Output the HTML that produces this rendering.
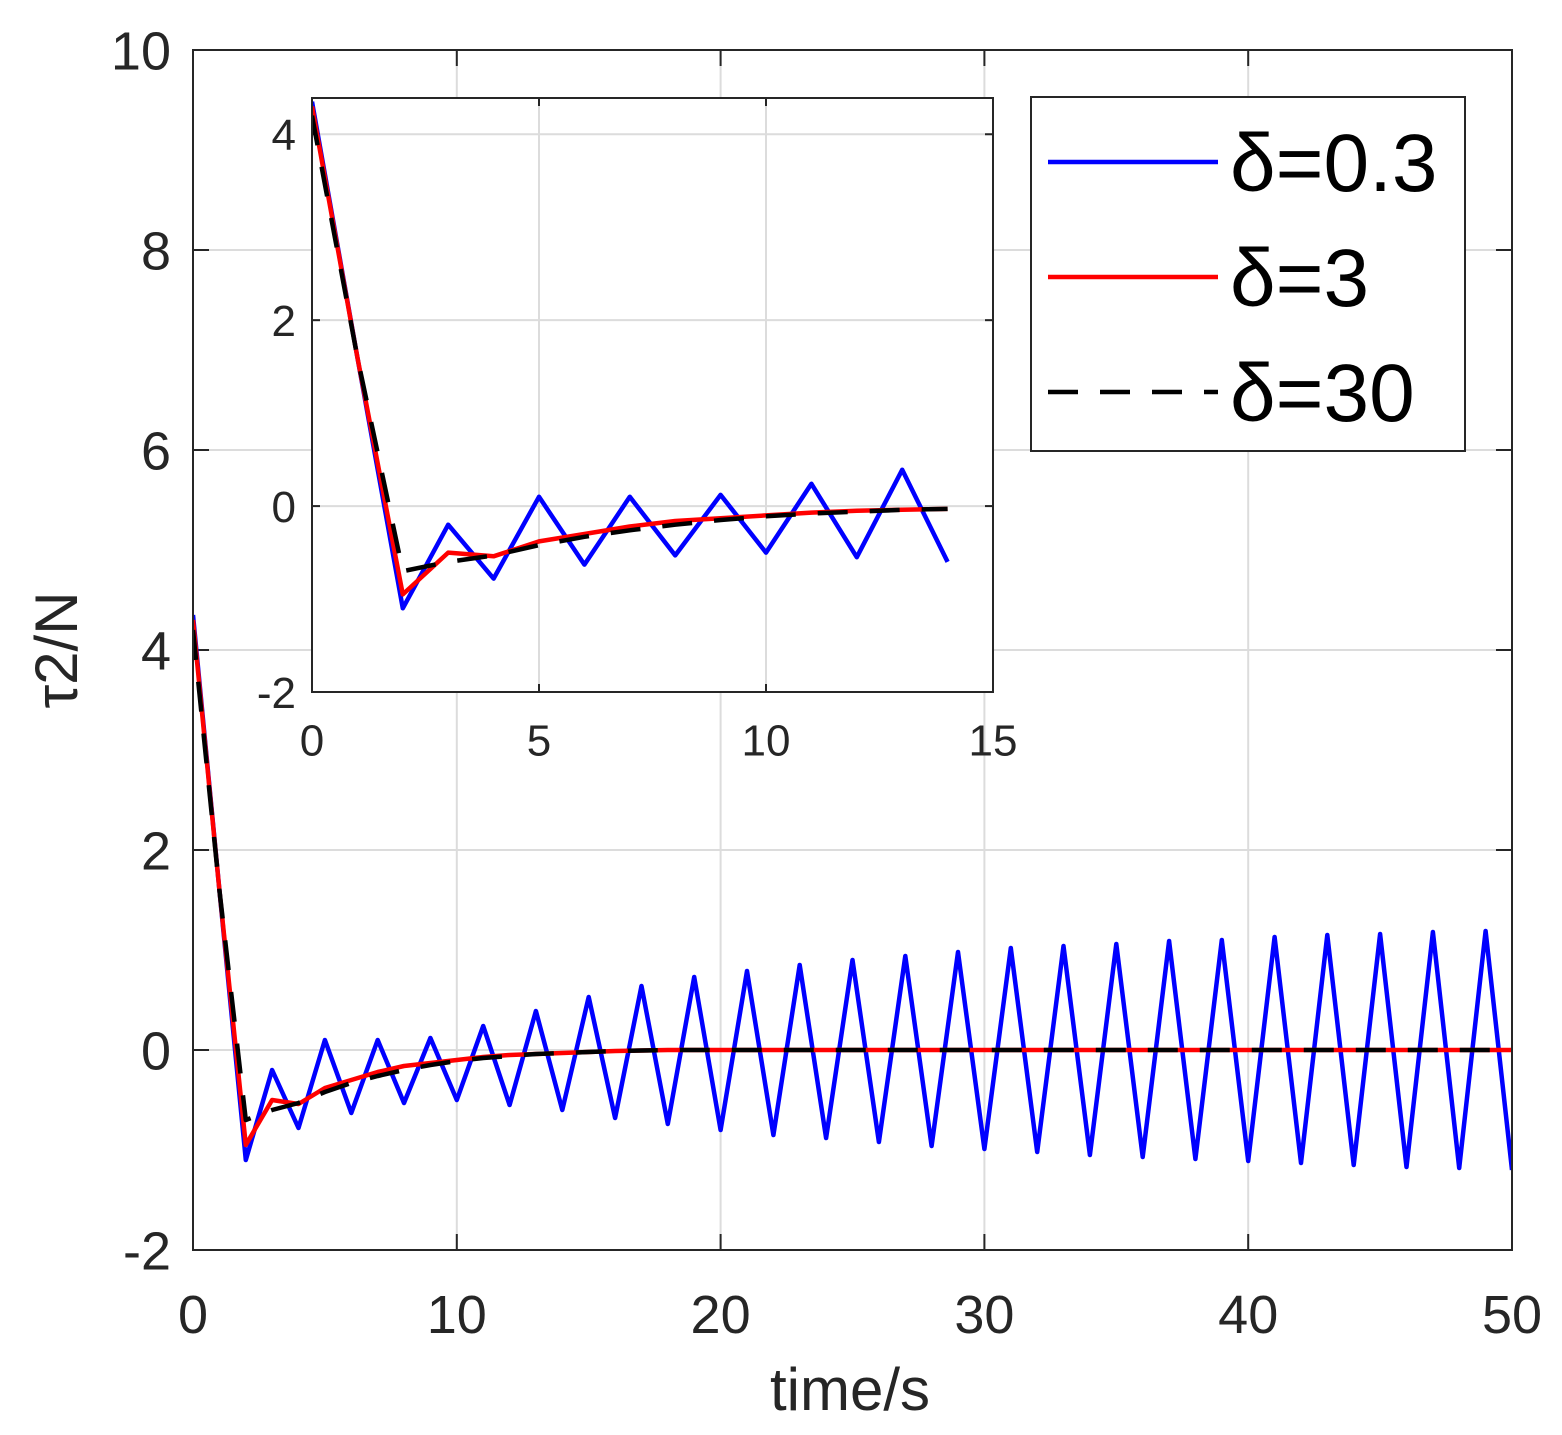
<!DOCTYPE html>
<html><head><meta charset="utf-8"><style>
html,body{margin:0;padding:0;background:#fff}
svg{display:block;font-family:"Liberation Sans",Arial,sans-serif}
</style></head><body>
<svg id="chart" width="1562" height="1435" viewBox="0 0 1562 1435" xmlns="http://www.w3.org/2000/svg"></svg>
<script>
const timesMain = Array.from({length:51},(_,i)=>i);
const blueVals = [4.35,1.6,-1.1,-0.2,-0.78,0.1,-0.63,0.1,-0.53,0.12,-0.5,0.24,-0.55,0.39,-0.6,0.53,-0.68,0.64,-0.74,0.73,-0.8,0.79,-0.85,0.85,-0.88,0.9,-0.92,0.94,-0.96,0.98,-0.99,1.02,-1.02,1.04,-1.05,1.06,-1.07,1.09,-1.09,1.1,-1.11,1.13,-1.13,1.15,-1.15,1.16,-1.17,1.18,-1.18,1.19,-1.2];
const redVals = [4.3,1.6,-0.95,-0.5,-0.54,-0.38,-0.3,-0.22,-0.16,-0.13,-0.1,-0.07,-0.05,-0.04,-0.03,-0.02,-0.01,-0.005,0,0,0,0,0,0,0,0,0,0,0,0,0,0,0,0,0,0,0,0,0,0,0,0,0,0,0,0,0,0,0,0,0];
const blackVals = [4.2,1.6,-0.7,-0.6,-0.53,-0.42,-0.33,-0.26,-0.2,-0.15,-0.11,-0.08,-0.06,-0.04,-0.03,-0.02,-0.01,-0.005,0,0,0,0,0,0,0,0,0,0,0,0,0,0,0,0,0,0,0,0,0,0,0,0,0,0,0,0,0,0,0,0,0];
const insetN = 15;
const mainXTicks = [0,10,20,30,40,50];
const mainYTicks = [-2,0,2,4,6,8,10];
const insetXTicks = [0,5,10,15];
const insetYTicks = [-2,0,2,4];
const legendLabels = ["δ=0.3","δ=3","δ=30"];

const NS="http://www.w3.org/2000/svg";
const svg=document.getElementById('chart');
function mk(tag,attrs,parent){const e=document.createElementNS(NS,tag);for(const k in attrs)e.setAttribute(k,attrs[k]);(parent||svg).appendChild(e);return e;}

function drawAxes(o){
  const {x0,x1,y0,y1,xmin,xmax,ymin,ymax,xt,yt,fs,name,tick,padx,pady}=o;
  const sx=v=>x0+(v-xmin)/(xmax-xmin)*(x1-x0);
  const sy=v=>y1-(v-ymin)/(ymax-ymin)*(y1-y0);
  const g=mk('g',{});
  
  
  mk('rect',{x:x0,y:y0,width:x1-x0,height:y1-y0,fill:'#fff'},g);
  xt.forEach(v=>{const x=sx(v);
    const l=mk('line',{x1:x,x2:x,y1:y0,y2:y1,stroke:'#dcdcdc','stroke-width':2},g);
    
    mk('line',{x1:x,x2:x,y1:y1,y2:y1-tick,stroke:'#262626','stroke-width':2},g);
    mk('line',{x1:x,x2:x,y1:y0,y2:y0+tick,stroke:'#262626','stroke-width':2},g);
    const t=mk('text',{x:x,y:y1+padx+fs*0.72,'text-anchor':'middle','font-size':fs,fill:'#262626'},g);
    t.textContent=v;
  });
  yt.forEach(v=>{const y=sy(v);
    const l=mk('line',{x1:x0,x2:x1,y1:y,y2:y,stroke:'#dcdcdc','stroke-width':2},g);
    
    mk('line',{x1:x0,x2:x0+tick,y1:y,y2:y,stroke:'#262626','stroke-width':2},g);
    mk('line',{x1:x1,x2:x1-tick,y1:y,y2:y,stroke:'#262626','stroke-width':2},g);
    const t=mk('text',{x:x0-pady,y:y+fs*0.36,'text-anchor':'end','font-size':fs,fill:'#262626'},g);
    t.textContent=v;
  });
  return {g,sx,sy,x0,x1,y0,y1};
}
function series(ax,xs,ys,color,dash,name,clipId){
  const pts=xs.map((x,i)=>ax.sx(x).toFixed(1)+','+ax.sy(ys[i]).toFixed(1)).join(' ');
  const p=mk('polyline',{points:pts,fill:'none',stroke:color,'stroke-width':4.5,'stroke-linejoin':'round','clip-path':'url(#'+clipId+')'},ax.g);
  if(dash)p.setAttribute('stroke-dasharray',dash);
  
}
const defs=mk('defs',{});
function clip(id,ax){const c=mk('clipPath',{id},defs);mk('rect',{x:ax.x0,y:ax.y0-4,width:ax.x1-ax.x0,height:ax.y1-ax.y0+8},c);}

const main=drawAxes({x0:193,x1:1512,y0:50,y1:1250,xmin:0,xmax:50,ymin:-2,ymax:10,xt:mainXTicks,yt:mainYTicks,fs:54,name:'main-axes',tick:16,padx:44,pady:22});
clip('cm',main);
series(main,timesMain,blueVals,'#0000ff',null,'line-delta-0-3','cm');
series(main,timesMain,redVals,'#ff0000',null,'line-delta-3','cm');
series(main,timesMain,blackVals,'#000000','30,22','line-delta-30','cm');
mk('rect',{x:193,y:50,width:1319,height:1200,fill:'none',stroke:'#262626','stroke-width':2},main.g);

const ti=timesMain.slice(0,insetN);
const inset=drawAxes({x0:312,x1:993,y0:98,y1:692,xmin:0,xmax:15,ymin:-2,ymax:4.39,xt:insetXTicks,yt:insetYTicks,fs:44,name:'inset-axes',tick:8,padx:32,pady:16});
clip('ci',inset);
series(inset,ti,blueVals.slice(0,insetN),'#0000ff',null,'inset-line-delta-0-3','ci');
series(inset,ti,redVals.slice(0,insetN),'#ff0000',null,'inset-line-delta-3','ci');
series(inset,ti,blackVals.slice(0,insetN),'#000000','30,22','inset-line-delta-30','ci');
mk('rect',{x:312,y:98,width:681,height:594,fill:'none',stroke:'#262626','stroke-width':2},inset.g);

const lg=mk('g',{});

mk('rect',{x:1031,y:97,width:434,height:354,fill:'#fff',stroke:'#262626','stroke-width':2},lg);
const lcolors=['#0000ff','#ff0000','#000000'];
legendLabels.forEach((s,i)=>{const y=162+i*115;
  const l=mk('line',{x1:1048,x2:1218,y1:y,y2:y,stroke:lcolors[i],'stroke-width':4.5},lg);
  if(i==2)l.setAttribute('stroke-dasharray','30,22');
  const t=mk('text',{x:1230,y:y+29,'font-size':82,fill:'#000'},lg);
  t.textContent=s;
});

const xl=mk('text',{x:850,y:1410,'text-anchor':'middle','font-size':60,fill:'#262626'});
xl.textContent='time/s';
const yl=mk('text',{x:0,y:0,'text-anchor':'middle','font-size':60,fill:'#262626',transform:'translate(77,650) rotate(-90)'});
yl.textContent='τ2/N';
</script>
</body></html>
